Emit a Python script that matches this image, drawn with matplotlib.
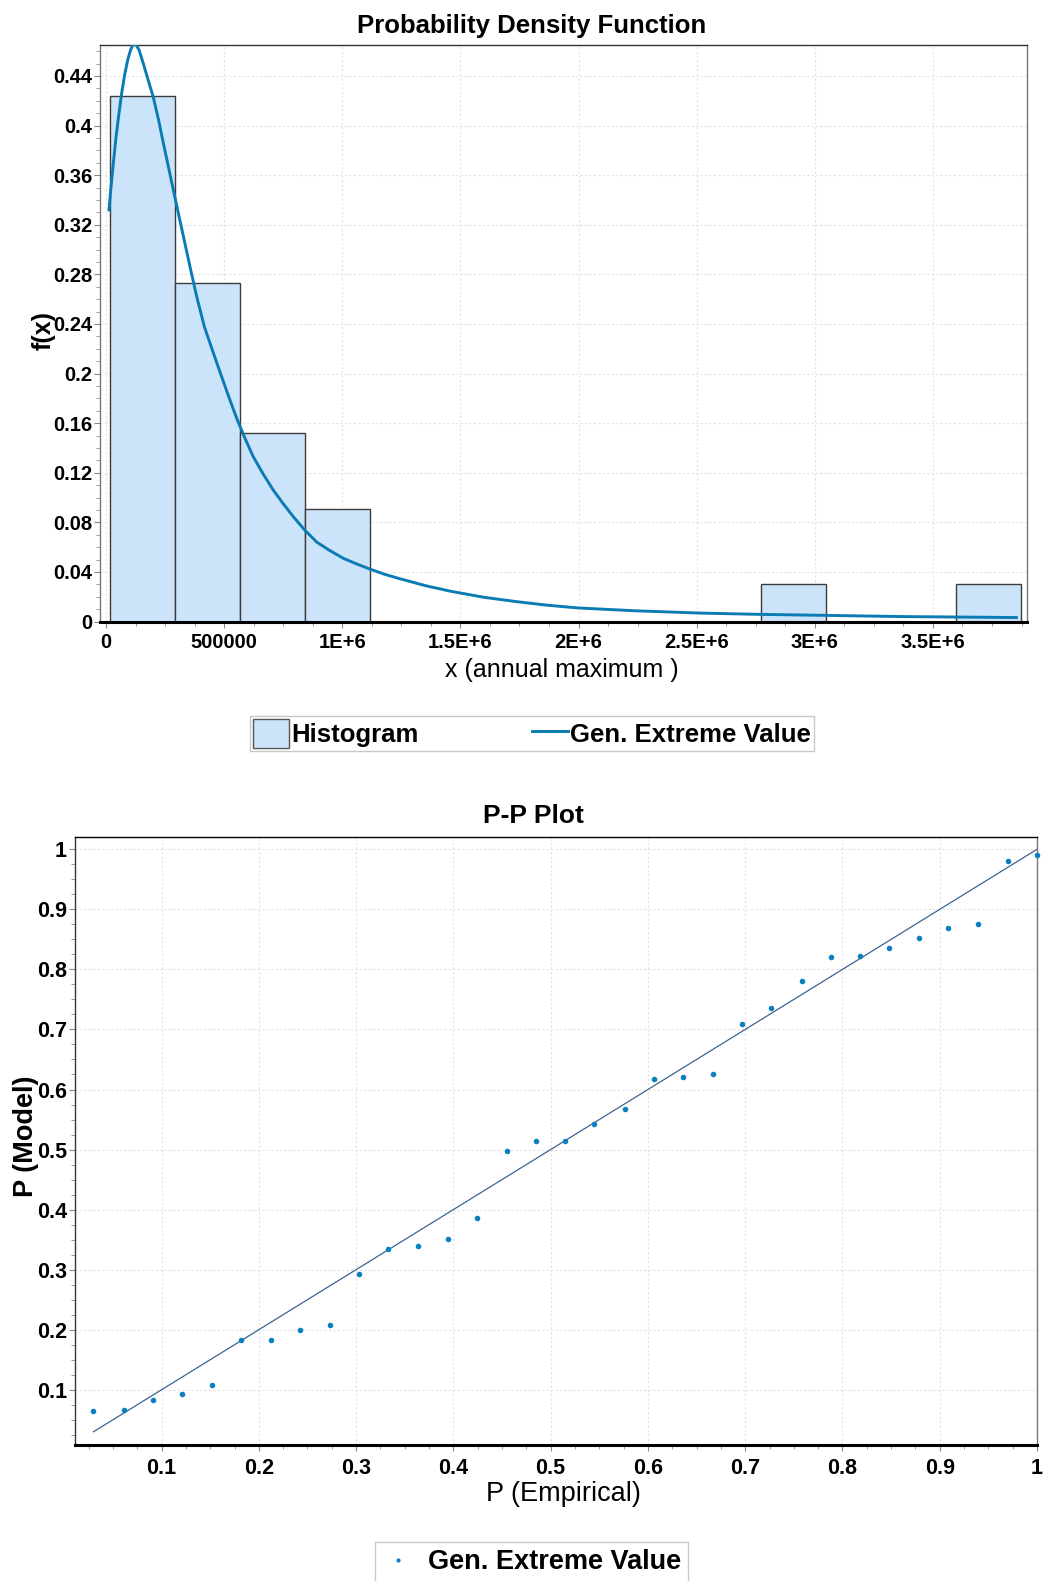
import matplotlib
matplotlib.use("Agg")
import matplotlib.pyplot as plt
from matplotlib.ticker import AutoMinorLocator, FixedLocator, FuncFormatter
from matplotlib.lines import Line2D
from matplotlib.patches import Patch

plt.rcParams['font.family'] = ['Liberation Sans', 'DejaVu Sans']

# ---- histogram (relative frequency per bin) ----
bin_edges = [15000, 290600, 566200, 841800, 1117400, 1393000, 1668600, 1944200,
             2219800, 2495400, 2771000, 3046600, 3322200, 3597800, 3873400]
hist_vals = [0.424, 0.273, 0.152, 0.091, 0, 0, 0, 0, 0, 0, 0.030, 0, 0, 0.030]

# ---- fitted Gen. Extreme Value curve ----
gev_x = [12700, 20000, 31000, 42000, 55000, 67000, 80000, 92000, 104000, 116000,
         128000, 140000, 158000, 178000, 200000, 222000, 243000, 265000, 285000,
         310000, 334000, 358000, 384000, 416000, 450000, 482000, 520000, 556000,
         590000, 623000, 665000, 708000, 750000, 793000, 840000, 892000, 945000,
         1004000, 1060000, 1114000, 1180000, 1244000, 1350000, 1456000, 1600000,
         1738000, 1860000, 1992000, 2232000, 2514000, 2754000, 2993000, 3360000,
         3853000]
gev_y = [0.332, 0.348, 0.3695, 0.39, 0.41, 0.427, 0.442, 0.453, 0.461, 0.466,
         0.465, 0.461, 0.450, 0.437, 0.423, 0.405, 0.3856, 0.366, 0.348,
         0.326, 0.305, 0.284, 0.262, 0.238, 0.219, 0.2015, 0.181, 0.1625,
         0.147, 0.133, 0.119, 0.106, 0.095, 0.0845, 0.074, 0.064, 0.0575,
         0.051, 0.0465, 0.0425, 0.038, 0.0345, 0.029, 0.0245, 0.0195,
         0.016, 0.0133, 0.011, 0.0087, 0.0068, 0.0058, 0.0051, 0.004,
         0.0032]

pdf_xticks = [0, 500000, 1000000, 1500000, 2000000, 2500000, 3000000, 3500000]
pdf_xticklabels = ['0', '500000', '1E+6', '1.5E+6', '2E+6', '2.5E+6', '3E+6', '3.5E+6']
pdf_yticks = [0, 0.04, 0.08, 0.12, 0.16, 0.2, 0.24, 0.28, 0.32, 0.36, 0.4, 0.44]

# ---- P-P plot ----
emp_p = [0.030, 0.061, 0.091, 0.121, 0.152, 0.182, 0.212, 0.242, 0.273, 0.303,
         0.333, 0.364, 0.394, 0.424, 0.455, 0.485, 0.515, 0.545, 0.576, 0.606,
         0.636, 0.667, 0.697, 0.727, 0.758, 0.788, 0.818, 0.848, 0.879, 0.909,
         0.939, 0.970, 1.000]
model_p = [0.064, 0.066, 0.083, 0.093, 0.108, 0.183, 0.183, 0.200, 0.208, 0.293,
           0.334, 0.339, 0.351, 0.386, 0.497, 0.514, 0.515, 0.543, 0.568, 0.617,
           0.621, 0.626, 0.709, 0.735, 0.780, 0.821, 0.822, 0.835, 0.852, 0.869,
           0.875, 0.980, 0.990]
ref_line = [0.030, 1.000]
pp_ticks = [0.1, 0.2, 0.3, 0.4, 0.5, 0.6, 0.7, 0.8, 0.9, 1.0]

hist_face = '#cce4fa'
hist_edge = '#3c3c3c'
curve_col = '#0b7bb3'
dot_col = '#0b80c0'
grid_kw = dict(color='#e2e2e2', linestyle=(0, (2, 2)), linewidth=0.8)

W, H = 1045, 1581
fig = plt.figure(figsize=(W / 100, H / 100), dpi=100)

gfmt = FuncFormatter(lambda v, p: '{:g}'.format(round(v, 3)))


def style_axes(ax, grey_left=True):
    ax.spines['bottom'].set_linewidth(2.2)
    ax.spines['bottom'].set_color('black')
    ax.spines['top'].set_color('#333333')
    ax.spines['left'].set_color('#777777' if grey_left else '#333333')
    ax.spines['right'].set_color('#777777')
    for s in ['top', 'left', 'right']:
        ax.spines[s].set_linewidth(1.0)
    ax.tick_params(which='both', direction='out', color='#888888')
    ax.tick_params(which='major', length=4)
    ax.tick_params(which='minor', length=3)
    ax.grid(True, which='major', **grid_kw)
    ax.set_axisbelow(True)


# ================= Probability Density Function =================
ax1 = fig.add_axes([100 / W, 1 - 621.5 / H, 927 / W, 576.5 / H])
widths = [bin_edges[i + 1] - bin_edges[i] for i in range(len(hist_vals))]
ax1.bar(bin_edges[:-1], hist_vals, width=widths, align='edge',
        facecolor=hist_face, edgecolor=hist_edge, linewidth=1.0, zorder=2)
ax1.plot(gev_x, gev_y, color=curve_col, linewidth=2.1, zorder=3)

ax1.set_xlim(-25400, 3898000)
ax1.set_ylim(0, 0.465)
ax1.xaxis.set_major_locator(FixedLocator(pdf_xticks))
ax1.set_xticklabels(pdf_xticklabels)
ax1.xaxis.set_minor_locator(AutoMinorLocator(4))
ax1.yaxis.set_major_locator(FixedLocator(pdf_yticks))
ax1.yaxis.set_major_formatter(gfmt)
ax1.yaxis.set_minor_locator(AutoMinorLocator(4))
style_axes(ax1)
ax1.tick_params(axis='x', labelsize=14.5, pad=4)
ax1.tick_params(axis='y', labelsize=14.5, pad=1.5)
for lab in ax1.get_xticklabels() + ax1.get_yticklabels():
    lab.set_fontweight('bold')

ax1.set_title('Probability Density Function', fontsize=18.5, fontweight='bold',
              pad=9, x=0.466)
ax1.set_xlabel('x (annual maximum )', fontsize=18, va='top')
ax1.xaxis.set_label_coords(0.498, -36 / 576.5)
ax1.set_ylabel('f(x)', fontsize=18, fontweight='bold')
ax1.yaxis.set_label_coords(-44 / 927, 0.505)

leg1_handles = [Patch(facecolor=hist_face, edgecolor='#555555', linewidth=1.0),
                Line2D([], [], color=curve_col, linewidth=2.1)]
fig.legend(leg1_handles, ['Histogram', 'Gen. Extreme Value'],
           loc='center', bbox_to_anchor=(532 / W, 1 - 733.5 / H), ncol=2,
           prop=dict(size=18.5, weight='bold'), frameon=True, fancybox=False,
           edgecolor='#c8c8c8', framealpha=1, handlelength=1.4, handleheight=1.35,
           handletextpad=0.1, columnspacing=4.4, borderpad=0.12, borderaxespad=0)

# ================= P-P Plot =================
ax2 = fig.add_axes([74.7 / W, 1 - 1445 / H, 962.3 / W, 608.3 / H])
ax2.plot(ref_line, ref_line, color='#3d6491', linewidth=0.9, zorder=2)
ax2.plot(emp_p, model_p, linestyle='none', marker='o', markersize=4,
         markeredgewidth=0, color=dot_col, zorder=3, clip_on=False)

ax2.set_xlim(0.0107, 1.0)
ax2.set_ylim(0.008, 1.021)
ax2.xaxis.set_major_locator(FixedLocator(pp_ticks))
ax2.yaxis.set_major_locator(FixedLocator(pp_ticks))
ax2.xaxis.set_major_formatter(gfmt)
ax2.yaxis.set_major_formatter(gfmt)
ax2.xaxis.set_minor_locator(AutoMinorLocator(4))
ax2.yaxis.set_minor_locator(AutoMinorLocator(4))
style_axes(ax2, grey_left=False)
ax2.spines['top'].set_color('black')
ax2.tick_params(axis='x', labelsize=15.5, pad=5.5)
ax2.tick_params(axis='y', labelsize=15.5, pad=1.5)
for lab in ax2.get_xticklabels() + ax2.get_yticklabels():
    lab.set_fontweight('bold')

ax2.set_title('P-P Plot', fontsize=19, fontweight='bold', pad=10, x=0.477)
ax2.set_xlabel('P (Empirical)', fontsize=19.5, va='top')
ax2.xaxis.set_label_coords(0.508, -36 / 608.3)
ax2.set_ylabel('P (Model)', fontsize=19.5, fontweight='bold')
ax2.yaxis.set_label_coords(-36 / 962.3, 0.508)

leg2_handles = [Line2D([], [], linestyle='none', marker='o', markersize=3,
                       markeredgewidth=0, color=dot_col)]
fig.legend(leg2_handles, ['Gen. Extreme Value'],
           loc='center', bbox_to_anchor=(531.5 / W, 1 - 1562 / H),
           prop=dict(size=19.5, weight='bold'), frameon=True, fancybox=False,
           edgecolor='#c8c8c8', framealpha=1, handlelength=1.2,
           handletextpad=0.5, borderpad=0.25, borderaxespad=0)

fig.savefig('out.png', dpi=100)
